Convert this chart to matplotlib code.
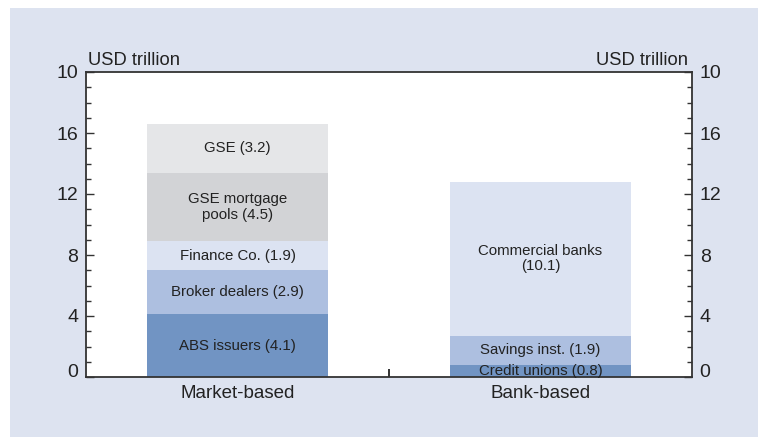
import numpy as np
from matplotlib import pyplot as plt
from matplotlib.patches import Rectangle
from matplotlib.ticker import MultipleLocator

plt.rcParams['font.family'] = ['Liberation Sans', 'DejaVu Sans']

categories = ['Market-based', 'Bank-based']
market_labels = ['ABS issuers', 'Broker dealers', 'Finance Co.', 'GSE mortgage\npools', 'GSE']
market_values = [4.1, 2.9, 1.9, 4.5, 3.2]
market_colors = ['#7194c3', '#adbfe0', '#dce3f2', '#d2d3d6', '#e5e6e8']
bank_labels = ['Credit unions', 'Savings inst.', 'Commercial banks\n']
bank_values = [0.8, 1.9, 10.1]
bank_colors = ['#7194c3', '#adbfe0', '#dce3f2']
ytick_vals = [0, 4, 8, 12, 16, 20]
ytick_labels = ['0', '4', '8', '12', '16', '10']

bg = '#dde3f0'
fig = plt.figure(figsize=(7.58, 4.37), dpi=100, facecolor='white')
fig.add_artist(Rectangle((10/758, 0), 1, 1 - 8/437, transform=fig.transFigure,
                         facecolor=bg, edgecolor='none', zorder=-10))
ax = fig.add_axes([86/758, 60/437, 606/758, 305/437])
ax.set_facecolor('white')

width = 0.6
def stack(x, vals, labels, colors):
    bottom = 0
    for v, lab, c in zip(vals, labels, colors):
        ax.bar(x, v, width, bottom=bottom, color=c, edgecolor='none')
        txt = lab.rstrip('\n')
        if lab.endswith('\n'):
            txt = txt + '\n(%.1f)' % v
        else:
            txt = txt + ' (%.1f)' % v
        ax.text(x, bottom + v / 2, txt, ha='center', va='center', fontsize=10.8,
                color='#222222', linespacing=1.1)
        bottom += v

stack(0, market_values, market_labels, market_colors)
stack(1, bank_values, bank_labels, bank_colors)

ax.set_xlim(-0.5, 1.5)
ax.set_ylim(0, 20)
ax.set_xticks([0.5])
ax.set_xticklabels([])
ax.tick_params(axis='x', direction='in', length=6, width=1.3, color='#222222')
for i, c in enumerate(categories):
    ax.text(i, -0.55, c, ha='center', va='top', fontsize=13.5, color='#222222')

ax.set_yticks(ytick_vals)
ax.set_yticklabels(ytick_labels)
ax.yaxis.set_minor_locator(MultipleLocator(1))
ax.tick_params(axis='y', which='major', direction='in', length=6, width=1.0,
               labelsize=14, pad=5.5, left=True, right=True, labelleft=True,
               labelright=True, color='#333333', labelcolor='#222222')
ax.tick_params(axis='y', which='minor', direction='in', length=3.5, width=1.0,
               left=True, right=True, color='#333333')
for t in ax.yaxis.get_major_ticks():
    if t.label1.get_text() == '0':
        t.label1.set_va('baseline')
        t.label2.set_va('baseline')

for s in ax.spines.values():
    s.set_linewidth(1.3)
    s.set_color('#333333')

ax.text(0.003, 1.01, 'USD trillion', transform=ax.transAxes, ha='left', va='bottom',
        fontsize=13.2, color='#222222')
ax.text(0.993, 1.01, 'USD trillion', transform=ax.transAxes, ha='right', va='bottom',
        fontsize=13.2, color='#222222')

fig.savefig('out.png', dpi=100, facecolor=fig.get_facecolor())
